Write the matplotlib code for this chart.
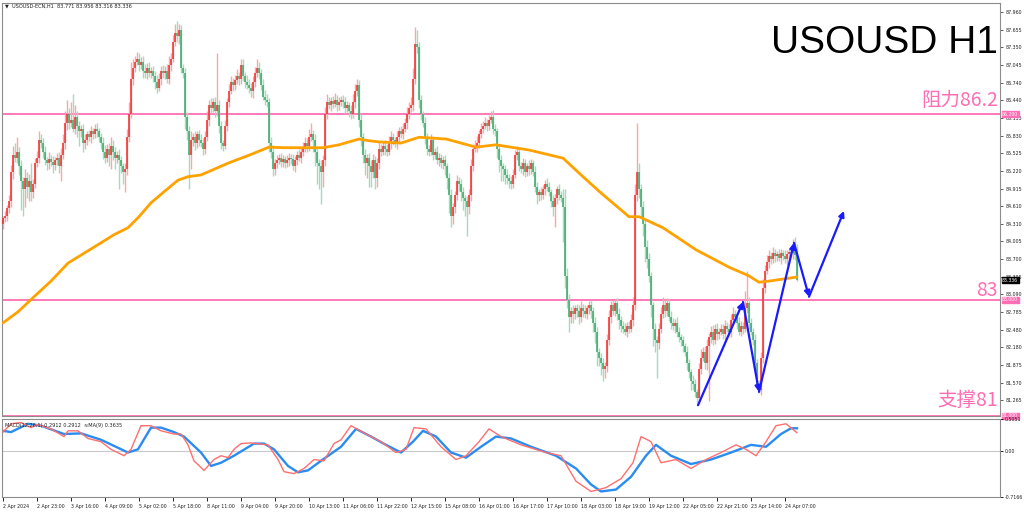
import matplotlib
matplotlib.use("Agg")
import matplotlib.pyplot as plt
import numpy as np

# ---------------- data ----------------
first_open = 84.30
closes = [
    84.40, 84.45, 84.58, 84.70, 85.20, 85.50, 85.45, 85.55, 85.30, 85.05, 84.90, 85.10, 84.95, 85.05, 84.85, 85.00, 85.35, 85.45, 85.75, 85.70,
    85.55, 85.40, 85.35, 85.42, 85.38, 85.33, 85.40, 85.45, 85.30, 85.50, 85.70, 86.05, 86.20, 86.05, 86.10, 85.95, 86.15, 86.00, 85.90, 85.95,
    85.70, 85.75, 85.85, 85.80, 85.90, 85.85, 85.95, 85.90, 85.80, 85.70, 85.55, 85.45, 85.60, 85.50, 85.65, 85.55, 85.45, 85.50, 85.40, 85.30,
    85.20, 85.25, 85.80, 86.20, 86.80, 87.00, 87.10, 87.15, 87.05, 87.10, 86.95, 86.90, 87.00, 86.90, 86.95, 86.85, 86.75, 86.65, 86.80, 86.95,
    86.90, 86.95, 86.80, 87.05, 87.15, 87.45, 87.60, 87.55, 87.65, 87.00, 86.90, 86.15, 85.90, 85.50, 85.75, 85.80, 85.70, 85.85, 85.75, 85.70,
    85.60, 85.80, 86.10, 86.35, 86.30, 86.40, 86.25, 86.35, 86.00, 85.70, 85.65, 86.00, 86.40, 86.60, 86.75, 86.70, 86.78, 86.85, 86.80, 87.05,
    86.85, 86.75, 86.70, 86.65, 86.60, 86.75, 86.90, 87.00, 86.90, 86.70, 86.50, 86.45, 86.40, 85.70, 85.55, 85.25, 85.35, 85.40, 85.45, 85.38,
    85.42, 85.35, 85.40, 85.45, 85.42, 85.30, 85.40, 85.50, 85.45, 85.55, 85.60, 85.70, 85.65, 85.80, 85.85, 85.75, 85.55, 85.35, 85.30, 85.20,
    85.40, 86.20, 86.40, 86.35, 86.42, 86.38, 86.45, 86.35, 86.40, 86.45, 86.40, 86.30, 86.35, 86.25, 86.20, 86.40, 86.60, 86.70, 86.10, 85.80,
    85.50, 85.35, 85.45, 85.30, 85.20, 85.40, 85.10, 85.35, 85.60, 85.55, 85.65, 85.60, 85.55, 85.70, 85.80, 85.75, 85.70, 85.80, 85.90, 85.85,
    85.95, 86.05, 86.20, 86.30, 86.35, 86.80, 87.40, 87.35, 86.45, 86.20, 86.05, 85.80, 85.60, 85.55, 85.75, 85.50, 85.55, 85.40, 85.45, 85.35,
    85.40, 85.30, 85.10, 84.80, 84.45, 84.60, 84.80, 85.05, 85.00, 84.85, 84.75, 84.70, 84.60, 84.80, 85.30, 85.60, 85.65, 85.70, 85.85, 85.95,
    86.00, 86.05, 86.00, 86.10, 86.15, 85.95, 85.90, 85.60, 85.40, 85.30, 85.25, 85.15, 85.10, 85.05, 85.00, 85.15, 85.50, 85.55, 85.30, 85.25,
    85.35, 85.20, 85.30, 85.25, 85.35, 85.20, 84.95, 84.80, 84.85, 84.80, 84.90, 85.00, 84.95, 84.85, 84.70, 84.60, 84.75, 84.90, 84.80, 84.75,
    84.60, 83.40, 83.00, 82.70, 82.80, 82.75, 82.85, 82.80, 82.70, 82.85, 82.80, 82.75, 82.85, 82.90, 82.80, 82.60, 82.45, 82.10, 82.00, 81.90,
    81.80, 81.85, 82.30, 82.70, 82.90, 82.80, 82.95, 82.75, 82.65, 82.55, 82.50, 82.45, 82.55, 82.50, 82.65, 82.90, 84.80, 85.20, 84.90, 84.60,
    84.30, 83.90, 83.70, 83.40, 82.90, 82.50, 82.30, 82.25, 82.50, 82.75, 82.90, 82.80, 82.95, 82.70, 82.60, 82.55, 82.60, 82.45, 82.35, 82.30,
    82.20, 82.10, 81.90, 81.75, 81.60, 81.55, 81.40, 81.30, 81.80, 82.00, 82.10, 81.90, 82.20, 82.35, 82.45, 82.30, 82.50, 82.40, 82.45, 82.50,
    82.40, 82.55, 82.50, 82.45, 82.65, 82.75, 82.70, 82.60, 82.45, 82.55, 82.50, 82.85, 82.95, 82.60, 82.45, 82.30, 81.90, 81.55, 81.45, 82.00,
    83.20, 83.50, 83.65, 83.75, 83.70, 83.80, 83.75, 83.78, 83.72, 83.80, 83.76, 83.70, 83.78, 83.82, 83.80, 83.90, 83.771, 83.336,
]
# upper / lower wick lengths in cents
upper_wick = [
    5, 8, 6, 10, 12, 15, 20, 25, 8, 10, 6, 15, 10, 12, 30, 8, 10, 12, 15, 10,
    8, 10, 6, 12, 8, 10, 6, 8, 10, 12, 15, 20, 25, 10, 30, 45, 20, 10, 8, 6,
    8, 10, 6, 8, 10, 6, 8, 10, 6, 8, 10, 12, 8, 10, 15, 10, 8, 6, 10, 8,
    6, 10, 15, 20, 30, 15, 10, 12, 10, 8, 10, 12, 8, 10, 6, 8, 10, 12, 10, 8,
    10, 8, 12, 15, 10, 12, 15, 20, 10, 8, 6, 10, 8, 10, 15, 8, 10, 6, 8, 10,
    8, 10, 15, 10, 12, 8, 10, 90, 10, 8, 6, 10, 8, 12, 10, 8, 10, 12, 8, 10,
    10, 8, 12, 10, 8, 10, 12, 15, 10, 8, 10, 12, 10, 8, 10, 12, 8, 10, 6, 8,
    8, 6, 10, 8, 6, 10, 8, 6, 10, 8, 12, 10, 8, 15, 20, 8, 10, 6, 8, 10,
    10, 12, 15, 10, 8, 10, 12, 8, 10, 6, 8, 10, 8, 6, 10, 15, 12, 10, 8, 10,
    8, 10, 6, 8, 10, 12, 8, 10, 12, 8, 6, 10, 8, 12, 10, 8, 6, 10, 8, 10,
    10, 8, 12, 10, 15, 20, 30, 25, 10, 8, 6, 10, 8, 6, 10, 8, 6, 10, 8, 6,
    8, 10, 6, 8, 10, 6, 8, 10, 6, 8, 10, 6, 8, 10, 12, 8, 10, 12, 8, 10,
    8, 10, 6, 8, 10, 12, 8, 6, 8, 10, 6, 8, 10, 6, 8, 10, 8, 10, 6, 8,
    10, 8, 6, 10, 8, 6, 10, 8, 6, 10, 8, 6, 10, 8, 6, 10, 8, 6, 10, 8,
    15, 30, 15, 10, 8, 10, 6, 8, 10, 12, 8, 10, 6, 8, 10, 8, 10, 8, 6, 8,
    10, 8, 10, 12, 8, 10, 6, 8, 10, 6, 8, 10, 6, 8, 10, 15, 20, 85, 15, 10,
    10, 8, 12, 10, 8, 6, 10, 8, 10, 12, 15, 10, 8, 6, 10, 8, 6, 10, 8, 6,
    8, 6, 10, 8, 6, 10, 8, 6, 10, 15, 8, 10, 12, 8, 10, 12, 8, 10, 6, 8,
    8, 10, 6, 8, 10, 12, 8, 6, 10, 8, 6, 30, 55, 10, 8, 6, 10, 8, 6, 10,
    15, 10, 12, 10, 8, 10, 8, 6, 10, 8, 6, 10, 8, 6, 10, 15, 18, 18.5,
]
lower_wick = [
    8, 6, 10, 8, 10, 12, 8, 10, 15, 50, 45, 30, 20, 25, 15, 10, 8, 6, 10, 8,
    10, 8, 12, 10, 8, 15, 10, 8, 12, 25, 8, 10, 12, 10, 8, 6, 10, 20, 25, 10,
    15, 10, 8, 6, 10, 8, 6, 10, 8, 10, 12, 10, 8, 20, 25, 15, 20, 10, 50, 12,
    20, 35, 10, 8, 6, 10, 8, 6, 10, 8, 12, 8, 10, 6, 8, 10, 12, 8, 6, 10,
    8, 10, 6, 8, 10, 6, 8, 10, 15, 10, 8, 20, 15, 60, 25, 10, 12, 8, 10, 6,
    10, 8, 6, 10, 8, 6, 10, 8, 12, 10, 8, 6, 10, 8, 6, 10, 8, 6, 10, 8,
    8, 10, 6, 8, 10, 12, 8, 6, 10, 8, 6, 10, 8, 15, 10, 12, 10, 8, 6, 10,
    10, 8, 6, 10, 8, 6, 10, 8, 6, 10, 8, 6, 10, 8, 6, 20, 25, 35, 40, 55,
    25, 10, 8, 6, 10, 8, 6, 10, 8, 6, 10, 8, 6, 10, 8, 6, 10, 8, 12, 15,
    15, 20, 25, 35, 26, 10, 20, 15, 10, 8, 6, 10, 8, 6, 10, 8, 6, 10, 8, 6,
    8, 6, 10, 8, 6, 10, 8, 10, 15, 10, 8, 12, 10, 8, 6, 10, 8, 6, 10, 8,
    10, 15, 20, 30, 20, 15, 10, 8, 12, 15, 20, 25, 50, 12, 10, 8, 6, 10, 8, 6,
    8, 6, 10, 8, 6, 10, 8, 15, 20, 25, 20, 15, 10, 12, 10, 8, 6, 10, 8, 6,
    10, 8, 6, 10, 8, 6, 10, 15, 10, 8, 6, 10, 8, 6, 10, 15, 35, 10, 8, 6,
    60, 20, 15, 25, 10, 15, 8, 10, 12, 8, 10, 6, 8, 10, 12, 15, 20, 25, 15, 20,
    20, 15, 10, 8, 10, 6, 8, 10, 15, 10, 8, 6, 10, 8, 6, 10, 8, 10, 15, 20,
    20, 25, 15, 10, 20, 30, 20, 60, 10, 8, 6, 10, 8, 6, 10, 8, 12, 10, 8, 10,
    10, 8, 12, 10, 15, 10, 8, 8, 10, 8, 6, 10, 12, 95, 10, 8, 6, 10, 8, 6,
    8, 10, 6, 8, 10, 6, 8, 10, 6, 8, 10, 6, 8, 10, 6, 8, 10, 8, 6, 10,
    10, 8, 6, 10, 8, 6, 10, 8, 6, 10, 8, 6, 10, 8, 6, 10, 8, 2,
]

# moving average (orange) sampled along bar index
ma_bar = [0, 7.5, 15.5, 24, 32.5, 40.5, 49, 55.5, 62.5, 68, 74, 80.5, 87.5, 92.5, 99, 105, 113, 123, 133,
          140, 146.5, 155, 160, 168, 178, 183, 188, 199, 208, 221.5, 236.5, 246.5, 263, 280, 290, 299, 313,
          318, 330, 346.5, 363, 373, 378, 383, 397]
ma_val = [82.60, 82.79, 83.05, 83.32, 83.63, 83.80, 83.98, 84.12, 84.24, 84.43, 84.67, 84.86, 85.06, 85.12,
          85.15, 85.24, 85.36, 85.49, 85.63, 85.62, 85.62, 85.62, 85.62, 85.67, 85.77, 85.74, 85.72, 85.70,
          85.80, 85.77, 85.63, 85.67, 85.58, 85.44, 85.12, 84.84, 84.43, 84.43, 84.24, 83.86, 83.56, 83.41,
          83.30, 83.32, 83.39]

# MACD main (red) and signal (blue)
macd_bar = [0, 4, 9, 14, 17, 24, 30.5, 32.5, 37.5, 42.5, 49, 54, 60.5, 64, 69, 74, 79, 85.5, 89, 92.5, 95.5,
            100.5, 105.5, 109, 112.5, 115.5, 119, 124, 132.5, 137.5, 140.5, 145.5, 150.5, 155.5, 160.5, 165.5,
            169, 174, 181.5, 189, 196.5, 201.5, 205.5, 211.5, 219, 226.5, 231.5, 238, 243, 249, 259, 271.5, 279,
            286.5, 294, 301.5, 309, 315, 319, 324, 329, 336.5, 344, 351.5, 359, 366.5, 371.5, 376.5, 381.5, 386.5,
            391.5, 397]
macd_val = [0.30, 0.43, 0.45, 0.37, 0.42, 0.35, 0.23, 0.32, 0.32, 0.20, 0.15, 0.03, -0.07, 0.03, 0.40, 0.40,
            0.32, 0.27, 0.27, 0.10, -0.15, -0.30, -0.13, -0.07, -0.10, 0.03, 0.12, 0.13, 0.10, -0.13, -0.32, -0.35,
            -0.27, -0.13, -0.15, 0.12, 0.18, 0.40, 0.27, 0.15, -0.02, 0.03, 0.37, 0.35, 0.07, -0.13, -0.07, 0.15,
            0.35, 0.23, 0.10, -0.02, -0.07, -0.47, -0.63, -0.57, -0.43, -0.18, 0.23, 0.15, -0.18, -0.13, -0.27,
            -0.13, -0.02, 0.10, 0.03, -0.07, 0.15, 0.40, 0.43, 0.29]
signal_bar = [0, 4, 12.5, 19, 30.5, 39, 49, 62.5, 67.5, 74, 79, 85.5, 90.5, 99, 104, 109, 115.5, 125.5, 130.5,
              135.5, 142.5, 147.5, 152.5, 159, 169, 176.5, 184, 191.5, 199, 205, 210, 216.5, 224, 231.5, 239,
              246.5, 254, 264, 276.5, 286.5, 294, 299, 306.5, 314, 321.5, 326.5, 334, 344, 354, 364, 374, 381.5,
              389, 394, 397]
signal_val = [0.32, 0.30, 0.43, 0.40, 0.27, 0.28, 0.18, -0.02, 0.03, 0.37, 0.37, 0.30, 0.23, -0.02, -0.23,
              -0.18, -0.07, 0.12, 0.12, 0.03, -0.23, -0.33, -0.30, -0.15, 0.07, 0.35, 0.23, 0.10, -0.02, 0.15,
              0.32, 0.23, -0.02, -0.10, 0.07, 0.23, 0.20, 0.07, -0.07, -0.27, -0.52, -0.63, -0.60, -0.40, -0.07,
              0.10, -0.07, -0.20, -0.13, -0.02, 0.10, 0.07, 0.27, 0.36, 0.36]

# levels and annotations
levels = [86.2, 83.0, 81.0]
level_labels = ["阻力86.2", "83", "支撑81"]
arrow_path = [(347.5, 81.18), (370, 82.96), (378, 81.41), (395.5, 83.98), (403, 83.05), (420.5, 84.53)]

price_ticks = [87.960, 87.655, 87.350, 87.045, 86.740, 86.440, 86.135, 85.830, 85.525, 85.220, 84.915,
               84.610, 84.310, 84.005, 83.700, 83.395, 83.090, 82.785, 82.480, 82.180, 81.875, 81.570, 81.265]
time_labels = ["2 Apr 2024", "2 Apr 23:00", "3 Apr 16:00", "4 Apr 09:00", "5 Apr 02:00", "5 Apr 18:00",
               "8 Apr 11:00", "9 Apr 04:00", "9 Apr 20:00", "10 Apr 13:00", "11 Apr 06:00", "11 Apr 22:00",
               "12 Apr 15:00", "15 Apr 08:00", "16 Apr 01:00", "16 Apr 17:00", "17 Apr 10:00", "18 Apr 03:00",
               "18 Apr 19:00", "19 Apr 12:00", "22 Apr 05:00", "22 Apr 21:00", "23 Apr 14:00", "24 Apr 07:00"]
bars_per_label = 17

# ---------------- figure ----------------
W, H = 1024, 514
fig = plt.figure(figsize=(W / 100, H / 100), dpi=100)
fig.patch.set_facecolor("white")

def fx(px):
    return px / W

def fy(py):
    return 1 - py / H

ax = fig.add_axes([fx(2), fy(416), fx(998), 413 / H])
ax2 = fig.add_axes([fx(2), fy(497), fx(998), 78 / H])

grey = "#8c8c8c"
for a in (ax, ax2):
    for s in a.spines.values():
        s.set_color(grey)
        s.set_linewidth(0.8)

closes_a = np.array(closes, dtype=float)
n = len(closes_a)
idx = np.arange(n)
opens_a = np.r_[first_open, closes_a[:-1]]
body_hi = np.maximum(opens_a, closes_a)
body_lo = np.minimum(opens_a, closes_a)
highs = body_hi + np.array(upper_wick, dtype=float) / 100
lows = body_lo - np.array(lower_wick, dtype=float) / 100
is_up = closes_a >= opens_a

red, green = "#f52a2a", "#3aa868"
red_w, green_w = "#f8a8a8", "#a6dbbb"
ax.vlines(idx, lows, highs, colors=np.where(is_up, red_w, green_w), linewidth=1.0, zorder=2)
body_top = np.maximum(body_hi, body_lo + 0.02)
ax.vlines(idx, body_lo, body_top, colors=np.where(is_up, red, green), linewidth=1.1, zorder=3)

ax.plot(ma_bar, ma_val, color="#ffa200", linewidth=2.0, zorder=4, solid_capstyle="round",
        solid_joinstyle="round")

pink = "#ff6eb4"
for lv in levels:
    ax.axhline(lv, color=pink, linewidth=1.3, zorder=1)

# arrows
for (x0, y0), (x1, y1) in zip(arrow_path[:-1], arrow_path[1:]):
    ax.annotate("", xy=(x1, y1), xytext=(x0, y0),
                arrowprops=dict(arrowstyle="-|>", color="#1a1aff", lw=1.6,
                                mutation_scale=8, shrinkA=0, shrinkB=0), zorder=6)

ax.set_xlim(-0.5, 498.5)
ax.set_ylim(80.994, 88.115)
ax.set_xticks([])

# right price axis
ax.yaxis.tick_right()
ax.set_yticks(price_ticks)
ax.set_yticklabels([f"{v:.3f}" for v in price_ticks])
ax.tick_params(axis="y", labelsize=3.4, length=2.5, width=0.6, color="#444444", pad=1.2, labelcolor="#222222")

cjk = ["Noto Sans CJK SC", "DejaVu Sans"]
label_px_y = [100, 290, 400]
for txt, py in zip(level_labels, label_px_y):
    fig.text(fx(998), fy(py), txt, color=pink, fontsize=14, family=cjk, ha="right", va="center")

for val, face, fc in [(86.2, pink, "white"), (83.336, "black", "white"), (83.0, pink, "white"), (81.0, pink, "white")]:
    ax.annotate(f"{val:.3f}", xy=(1.0, val), xycoords=("axes fraction", "data"), xytext=(1.5, 0),
                textcoords="offset points", fontsize=3.3, color=fc, va="center", ha="left",
                bbox=dict(boxstyle="square,pad=0.12", fc=face, ec=face), annotation_clip=False)

fig.text(fx(771), fy(43), "USOUSD H1", fontsize=28, family=["Liberation Sans", "DejaVu Sans"],
         ha="left", va="center", color="black")
fig.text(fx(5), fy(6), "\u25BC  USOUSD-ECN,H1  83.771 83.956 83.316 83.336", fontsize=3.6,
         color="#222222", ha="left", va="center")

# MACD panel
ax2.axhline(0, color="#c8c8c8", linewidth=0.8, zorder=1)
ax2.plot(macd_bar, macd_val, color="#ff6f6f", linewidth=1.0, zorder=3)
ax2.plot(signal_bar, signal_val, color="#2a8cf0", linewidth=1.7, zorder=2)
ax2.set_xlim(-0.5, 498.5)
ax2.set_ylim(-0.7166, 0.5051)
ax2.yaxis.tick_right()
ax2.set_yticks([0.5051, 0.0, -0.7166])
ax2.set_yticklabels(["0.5051", "0.00", "-0.7166"])
ax2.tick_params(axis="y", labelsize=3.4, length=2.5, width=0.6, pad=1.2, labelcolor="#222222")
fig.text(fx(5), fy(425), "MACD(12,26,1) 0.2912 0.2912  \u2248MA(9) 0.3635", fontsize=3.6,
         color="#222222", ha="left", va="center")

tick_pos = [k * bars_per_label for k in range(len(time_labels))]
ax2.set_xticks(tick_pos)
ax2.set_xticklabels(time_labels, ha="left")
ax2.tick_params(axis="x", labelsize=3.4, length=3, width=0.6, pad=2, labelcolor="#222222")

fig.savefig("out.png", dpi=100, facecolor="white")
